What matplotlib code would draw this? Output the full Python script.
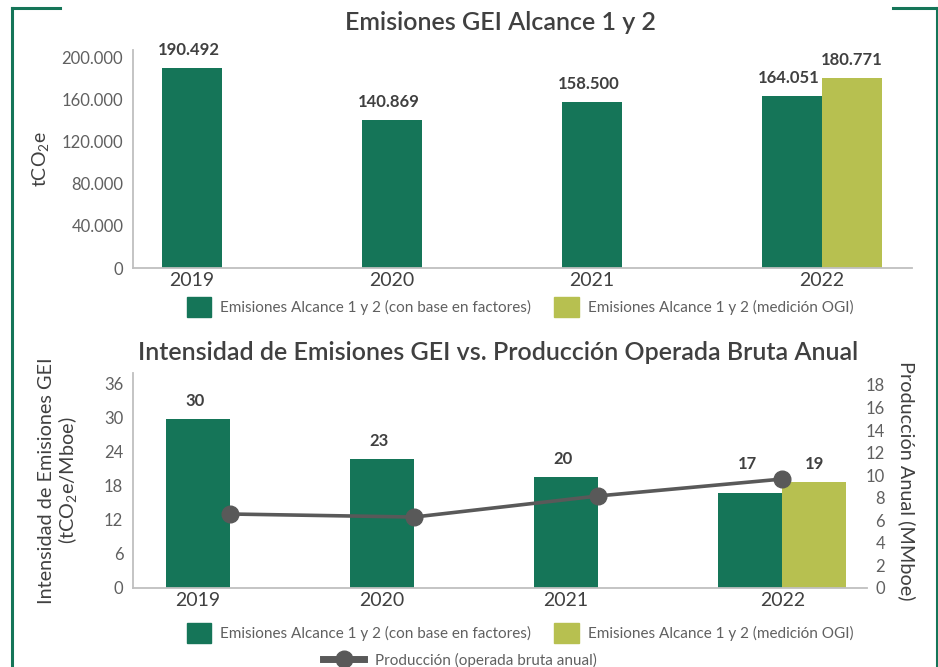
import numpy as np
import matplotlib
matplotlib.use("Agg")
import matplotlib.pyplot as plt
from matplotlib.lines import Line2D
from matplotlib.patches import Patch
from matplotlib.ticker import FuncFormatter

plt.rcParams['font.family'] = ['Lato', 'DejaVu Sans']
plt.rcParams['mathtext.fontset'] = 'custom'
plt.rcParams['mathtext.rm'] = 'Lato'

# datos
years = ['2019', '2020', '2021', '2022']
emis_factores = [190492, 140869, 158500, 164051]
emis_ogi = [None, None, None, 180771]
intens_factores = [29.7, 22.7, 19.6, 16.7]
intens_ogi = [None, None, None, 18.6]
produccion = [6.56, 6.29, 8.16, 9.66]

legend_f = 'Emisiones Alcance 1 y 2 (con base en factores)'
legend_o = 'Emisiones Alcance 1 y 2 (medición OGI)'
legend_p = 'Producción (operada bruta anual)'

GREEN = '#157558'
OLIVE = '#B7C050'
GREY_LINE = '#595959'
TXT = '#404040'
TICK = '#606060'
AXIS = '#BFBFBF'

W, H = 938, 667
fig = plt.figure(figsize=(W / 100, H / 100), dpi=100)


def rect(x0, y0, x1, y1):
    # pixeles -> coordenadas de figura
    return [x0 / W, 1 - y1 / H, (x1 - x0) / W, (y1 - y0) / H]


def style_axes(ax):
    for s in ['top', 'right']:
        ax.spines[s].set_visible(False)
    for s in ['left', 'bottom']:
        ax.spines[s].set_color(AXIS)
        ax.spines[s].set_linewidth(1.3)
    ax.tick_params(axis='y', length=0, pad=7, labelsize=12, labelcolor=TICK)
    ax.tick_params(axis='x', length=0, pad=3, labelsize=14, labelcolor=TXT)


def draw_bars(ax, v1, v2, width, fmt, raise_pair=False):
    x = np.arange(len(years))
    ticks = []
    for i in range(len(years)):
        ax.bar(x[i] - width / 2, v1[i], width, color=GREEN)
        top1 = v1[i]
        if v2[i] is not None:
            ax.bar(x[i] + width / 2, v2[i], width, color=OLIVE)
            ax.annotate(fmt(v2[i]), (x[i] + width / 2, v2[i]), xytext=(0, 7),
                        textcoords='offset points', ha='center', va='bottom',
                        fontsize=12, fontweight='bold', color=TXT)
            if raise_pair:
                top1 = max(v1[i], v2[i])
            ticks.append(x[i])
        else:
            ticks.append(x[i] - width / 2)
        ax.annotate(fmt(v1[i]), (x[i] - width / 2, top1), xytext=(-2, 7),
                    textcoords='offset points', ha='center', va='bottom',
                    fontsize=12, fontweight='bold', color=TXT)
    ax.set_xticks(ticks)
    ax.set_xticklabels(years)


# ---- grafico superior ----
ax1 = fig.add_axes(rect(133, 50, 912, 268))
style_axes(ax1)
w1 = 0.3
draw_bars(ax1, emis_factores, emis_ogi, w1, lambda v: f'{v:,.0f}'.replace(',', '.'))
ax1.set_xlim(-0.445, 3.45)
ax1.set_ylim(0, 207600)
ax1.set_yticks(np.arange(0, 200001, 40000))
ax1.yaxis.set_major_formatter(FuncFormatter(lambda v, p: f'{v:,.0f}'.replace(',', '.')))
ax1.set_ylabel(r'tCO$_\mathregular{2}$e', fontsize=14, color=TXT, labelpad=7)
fig.text(500 / W, 1 - 22 / H, 'Emisiones GEI Alcance 1 y 2', ha='center', va='center',
         fontsize=18, fontweight='semibold', color=TXT)

fig.legend(handles=[Patch(color=GREEN, label=legend_f), Patch(color=OLIVE, label=legend_o)],
           loc='center', bbox_to_anchor=(520 / W, 1 - 307 / H), ncol=2, frameon=False,
           fontsize=11, labelcolor=TICK, handlelength=1.6, handleheight=1.55,
           handletextpad=0.6, columnspacing=1.5)

# ---- grafico inferior ----
ax2 = fig.add_axes(rect(133, 373, 867, 588))
style_axes(ax2)
w2 = 0.348
draw_bars(ax2, intens_factores, intens_ogi, w2, lambda v: f'{v:.0f}', raise_pair=True)
ax2.set_xlim(-0.527, 3.46)
ax2.set_ylim(0, 37.8)
ax2.set_yticks(np.arange(0, 37, 6))
ax2.set_ylabel('Intensidad de Emisiones GEI\n' + r'(tCO$_\mathregular{2}$e/Mboe)',
               fontsize=14.3, color=TXT, labelpad=17, linespacing=1.1)

ax3 = ax2.twinx()
for s in ax3.spines.values():
    s.set_visible(False)
ax3.plot(np.arange(len(years)), produccion, color=GREY_LINE, lw=2.6,
         marker='o', markersize=12, zorder=5)
ax3.set_ylim(0, 19.06)
ax3.set_yticks(np.arange(0, 19, 2))
ax3.tick_params(axis='y', length=0, pad=13, labelsize=12, labelcolor=TICK)
for lab in ax3.get_yticklabels():
    lab.set_horizontalalignment('right')
ax3.set_ylabel('Producción Anual (MMboe)', fontsize=14.3, color=TXT, rotation=270,
               labelpad=22)

fig.text(498 / W, 1 - 352 / H,
         'Intensidad de Emisiones GEI vs. Producción Operada Bruta Anual',
         ha='center', va='center', fontsize=18, fontweight='semibold', color=TXT)

fig.legend(handles=[Patch(color=GREEN, label=legend_f), Patch(color=OLIVE, label=legend_o)],
           loc='center', bbox_to_anchor=(520 / W, 1 - 633 / H), ncol=2, frameon=False,
           fontsize=11, labelcolor=TICK, handlelength=1.6, handleheight=1.55,
           handletextpad=0.6, columnspacing=1.5)
fig.legend(handles=[Line2D([], [], color=GREY_LINE, lw=5, marker='o', markersize=12,
                           label=legend_p)],
           loc='center', bbox_to_anchor=(460 / W, 1 - 660 / H), frameon=False,
           fontsize=11, labelcolor=TICK, handlelength=2.7, handletextpad=0.7)

# marco verde
for xs, ys in [([12, 12], [8, H]), ([12, 60], [8, 8]),
               ([893, 937], [8, 8]), ([937, 937], [8, H])]:
    fig.add_artist(Line2D([x / W for x in xs], [1 - y / H for y in ys],
                          color=GREEN, lw=2.2))

fig.savefig('out.png', dpi=100)
